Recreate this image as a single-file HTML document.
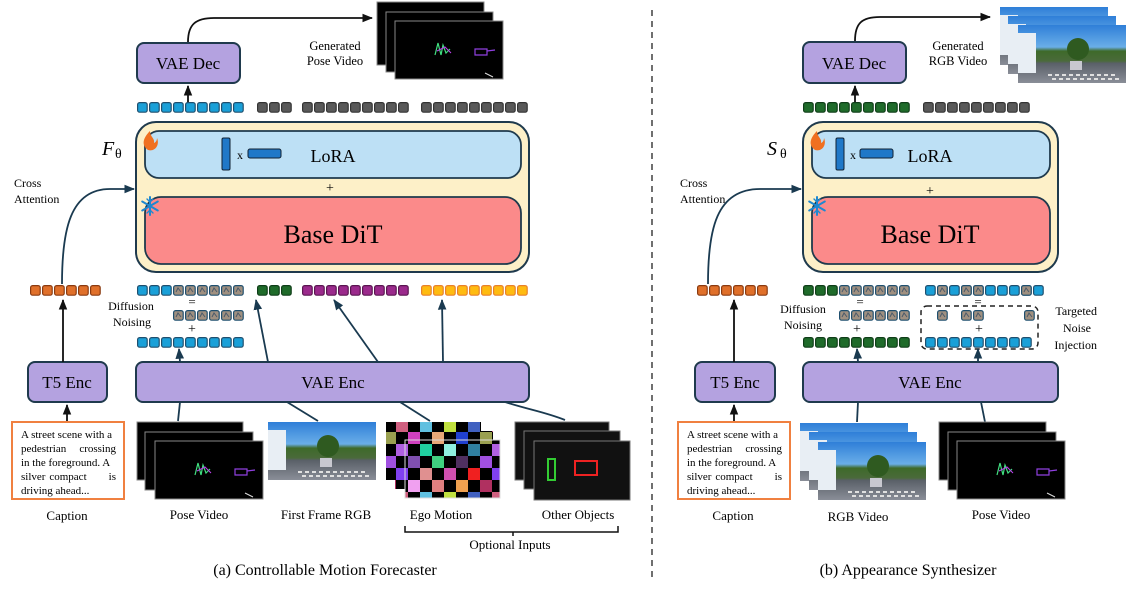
<!DOCTYPE html>
<html><head><meta charset="utf-8"><style>
html,body{margin:0;padding:0;background:#fff;}
svg{display:block;font-family:"Liberation Serif",serif;}
</style></head><body>
<svg width="1142" height="589" viewBox="0 0 1142 589" xmlns="http://www.w3.org/2000/svg">
<defs>
<pattern id="tb" width="12" height="11" patternUnits="userSpaceOnUse"><rect x="0.6" y="0.6" width="9.6" height="9.6" rx="2" fill="#1aa0d8" stroke="#1f4f6e" stroke-width="1.2"/></pattern>
<pattern id="tg" width="12" height="11" patternUnits="userSpaceOnUse"><rect x="0.6" y="0.6" width="9.6" height="9.6" rx="2" fill="#1f6b2a" stroke="#0f3d18" stroke-width="1.2"/></pattern>
<pattern id="tp" width="12" height="11" patternUnits="userSpaceOnUse"><rect x="0.6" y="0.6" width="9.6" height="9.6" rx="2" fill="#9b2a8c" stroke="#5a1550" stroke-width="1.2"/></pattern>
<pattern id="ty" width="12" height="11" patternUnits="userSpaceOnUse"><rect x="0.6" y="0.6" width="9.6" height="9.6" rx="2" fill="#ffbb10" stroke="#e8802a" stroke-width="1.2"/></pattern>
<pattern id="to" width="12" height="11" patternUnits="userSpaceOnUse"><rect x="0.6" y="0.6" width="9.6" height="9.6" rx="2" fill="#e0702a" stroke="#8a3a10" stroke-width="1.2"/></pattern>
<pattern id="tk" width="12" height="11" patternUnits="userSpaceOnUse"><rect x="0.6" y="0.6" width="9.6" height="9.6" rx="2" fill="#595959" stroke="#333" stroke-width="1.2"/></pattern>
<pattern id="tn" width="12" height="11" patternUnits="userSpaceOnUse"><rect x="0.6" y="0.6" width="9.6" height="9.6" rx="2" fill="#a09080" stroke="#1f4f6e" stroke-width="1.2"/><path d="M3 7 L5 3 L8 7" stroke="#4a5a6a" stroke-width="1" fill="none"/></pattern>
<pattern id="chk" width="80" height="60" patternUnits="userSpaceOnUse" patternTransform="scale(1.2)">
<rect width="80" height="60" fill="#000"/>
<rect x="0" y="0" width="10" height="10" fill="#9aa050"/><rect x="20" y="0" width="10" height="10" fill="#d040c0"/><rect x="40" y="0" width="10" height="10" fill="#e8a878"/><rect x="60" y="0" width="10" height="10" fill="#2040d0"/>
<rect x="10" y="10" width="10" height="10" fill="#b060e0"/><rect x="30" y="10" width="10" height="10" fill="#20d0a0"/><rect x="50" y="10" width="10" height="10" fill="#90f0e0"/><rect x="70" y="10" width="10" height="10" fill="#3080a0"/>
<rect x="0" y="20" width="10" height="10" fill="#a050e0"/><rect x="20" y="20" width="10" height="10" fill="#8050b0"/><rect x="40" y="20" width="10" height="10" fill="#40d080"/><rect x="60" y="20" width="10" height="10" fill="#503060"/>
<rect x="10" y="30" width="10" height="10" fill="#8040f0"/><rect x="30" y="30" width="10" height="10" fill="#e09090"/><rect x="50" y="30" width="10" height="10" fill="#d050b0"/><rect x="70" y="30" width="10" height="10" fill="#f02020"/>
<rect x="0" y="40" width="10" height="10" fill="#b03060"/><rect x="20" y="40" width="10" height="10" fill="#f0a0f0"/><rect x="40" y="40" width="10" height="10" fill="#e08080"/><rect x="60" y="40" width="10" height="10" fill="#f0a050"/>
<rect x="10" y="50" width="10" height="10" fill="#d06080"/><rect x="30" y="50" width="10" height="10" fill="#60c0e0"/><rect x="50" y="50" width="10" height="10" fill="#c0e040"/><rect x="70" y="50" width="10" height="10" fill="#4060c0"/>
</pattern>
<linearGradient id="street" x1="0" y1="0" x2="0" y2="1">
<stop offset="0" stop-color="#2f7fd8"/><stop offset="0.38" stop-color="#6aaee8"/><stop offset="0.45" stop-color="#3e6a2a"/><stop offset="0.62" stop-color="#4a6a3a"/><stop offset="0.66" stop-color="#5a6068"/><stop offset="1" stop-color="#8a8e98"/>
</linearGradient>
<g id="streetimg">
<rect width="108" height="58" fill="url(#street)"/>
<rect x="0" y="8" width="18" height="40" fill="#e8eef4"/>
<circle cx="60" cy="24" r="11" fill="#2f5a20"/>
<rect x="52" y="36" width="12" height="9" fill="#c8c8d0"/>
<path d="M30 50 H100 M34 54 H104" stroke="#e0e0e0" stroke-width="2" stroke-dasharray="4 3"/>
</g>
<g id="posefr">
<rect width="108" height="58" fill="#000" stroke="#888" stroke-width="1"/>
<path d="M40 34 L43 22 L46 34 L48 24 L51 32 L55 28" stroke="#40e080" stroke-width="1.2" fill="none"/>
<path d="M42 30 L50 26 L56 32" stroke="#c040f0" stroke-width="1" fill="none"/>
<path d="M80 28 H92 V34 H80 Z M92 30 L100 29" stroke="#9040e0" stroke-width="1.2" fill="none"/>
<path d="M90 52 L98 56" stroke="#ddd" stroke-width="1"/>
</g>
<g id="snow" stroke="#1e88d0" stroke-width="2" stroke-linecap="round">
<path d="M0 -9 V9 M-7.8 -4.5 L7.8 4.5 M-7.8 4.5 L7.8 -4.5"/>
<path d="M-3 -7 L0 -4 L3 -7 M-3 7 L0 4 L3 7" stroke-width="1.4" fill="none"/>
</g>
<marker id="ah" viewBox="0 0 10 10" refX="9" refY="5" markerWidth="6" markerHeight="6" orient="auto"><path d="M0 1 L10 5 L0 9 Z" fill="#111"/></marker>
<marker id="ahb" viewBox="0 0 10 10" refX="9" refY="5" markerWidth="6" markerHeight="6" orient="auto"><path d="M0 1 L10 5 L0 9 Z" fill="#1a3a50"/></marker>
</defs>

<line x1="652" y1="10" x2="652" y2="582" stroke="#222" stroke-width="1.3" stroke-dasharray="6 5"/>

<!-- LEFT -->
<rect x="137" y="43" width="103" height="40" rx="7" fill="#b4a2e0" stroke="#1f3a4d" stroke-width="2"/>
<text x="188" y="69" font-size="17" text-anchor="middle">VAE Dec</text>
<path d="M188 42 C188 24 196 18 214 18 L372 18" stroke="#111" stroke-width="1.8" fill="none" marker-end="url(#ah)"/>
<line x1="188" y1="103" x2="188" y2="86" stroke="#111" stroke-width="1.8" marker-end="url(#ah)"/>
<text x="335" y="50" font-size="12.5" text-anchor="middle">Generated</text>
<text x="335" y="65" font-size="12.5" text-anchor="middle">Pose Video</text>
<rect x="377" y="2" width="107" height="63" fill="#000" stroke="#888"/>
<rect x="386" y="12" width="107" height="60" fill="#000" stroke="#888"/>
<use href="#posefr" x="395" y="21"/>

<g transform="translate(137,102)"><rect width="108" height="11" fill="url(#tb)"/></g>
<g transform="translate(257,102)"><rect width="36" height="11" fill="url(#tk)"/></g>
<g transform="translate(302,102)"><rect width="108" height="11" fill="url(#tk)"/></g>
<g transform="translate(421,102)"><rect width="108" height="11" fill="url(#tk)"/></g>

<rect x="136" y="122" width="393" height="150" rx="20" fill="#fdf0c8" stroke="#1f3a4d" stroke-width="2"/>
<rect x="145" y="131" width="376" height="47" rx="14" fill="#bde0f5" stroke="#1f3a4d" stroke-width="1.8"/>
<rect x="222" y="138" width="8" height="32" rx="1.5" fill="#1f78c8" stroke="#123" stroke-width="1"/>
<text x="240" y="159" font-size="12" text-anchor="middle">x</text>
<rect x="248" y="149" width="33" height="9" rx="2" fill="#1f78c8" stroke="#123" stroke-width="1"/>
<text x="333" y="162" font-size="18" text-anchor="middle">LoRA</text>
<text x="330" y="192" font-size="14" text-anchor="middle">+</text>
<rect x="145" y="197" width="376" height="67" rx="16" fill="#fb8a8a" stroke="#1f3a4d" stroke-width="1.8"/>
<text x="333" y="243" font-size="26" text-anchor="middle">Base DiT</text>
<text x="102" y="155" font-size="20" font-style="italic">F</text><text x="115" y="158" font-size="14">θ</text>
<path d="M148 150 C141 145 143 138 150 131 C150 137 155 138 154 143 C157 142 157 138 157 138 C160 145 155 152 148 150 Z" fill="#f07020"/>
<use href="#snow" x="150" y="206"/>

<text x="14" y="187" font-size="12">Cross</text>
<text x="14" y="203" font-size="12">Attention</text>
<path d="M62 284 C62 230 70 189 110 189 L134 189" stroke="#1a3a50" stroke-width="1.8" fill="none" marker-end="url(#ahb)"/>
<g transform="translate(30,285)"><rect width="72" height="11" fill="url(#to)"/></g>

<g transform="translate(137,285)"><rect width="36" height="11" fill="url(#tb)"/></g>
<g transform="translate(173,285)"><rect width="72" height="11" fill="url(#tn)"/></g>
<g transform="translate(257,285)"><rect width="36" height="11" fill="url(#tg)"/></g>
<g transform="translate(302,285)"><rect width="108" height="11" fill="url(#tp)"/></g>
<g transform="translate(421,285)"><rect width="108" height="11" fill="url(#ty)"/></g>
<text x="192" y="306" font-size="13" text-anchor="middle">=</text>
<g transform="translate(173,310)"><rect width="72" height="11" fill="url(#tn)"/></g>
<text x="192" y="333" font-size="14" text-anchor="middle">+</text>
<g transform="translate(137,337)"><rect width="108" height="11" fill="url(#tb)"/></g>
<text x="131" y="310" font-size="12" text-anchor="middle">Diffusion</text>
<text x="132" y="326" font-size="12" text-anchor="middle">Noising</text>

<rect x="28" y="362" width="79" height="40" rx="7" fill="#b4a2e0" stroke="#1f3a4d" stroke-width="2"/>
<text x="67" y="388" font-size="17" text-anchor="middle">T5 Enc</text>
<rect x="136" y="362" width="393" height="40" rx="7" fill="#b4a2e0" stroke="#1f3a4d" stroke-width="2"/>
<text x="333" y="388" font-size="17" text-anchor="middle">VAE Enc</text>
<line x1="63" y1="362" x2="63" y2="300" stroke="#111" stroke-width="1.8" marker-end="url(#ah)"/>
<line x1="67" y1="421" x2="67" y2="405" stroke="#111" stroke-width="1.8" marker-end="url(#ah)"/>
<line x1="180" y1="362" x2="179" y2="349" stroke="#1a3a50" stroke-width="1.8" marker-end="url(#ahb)"/>
<line x1="268" y1="362" x2="256" y2="300" stroke="#1a3a50" stroke-width="1.8" marker-end="url(#ahb)"/>
<line x1="378" y1="362" x2="334" y2="300" stroke="#1a3a50" stroke-width="1.8" marker-end="url(#ahb)"/>
<line x1="443" y1="362" x2="442" y2="300" stroke="#1a3a50" stroke-width="1.8" marker-end="url(#ahb)"/>
<line x1="180" y1="402" x2="178" y2="421" stroke="#1a3a50" stroke-width="1.8"/>
<line x1="287" y1="402" x2="318" y2="421" stroke="#1a3a50" stroke-width="1.8"/>
<line x1="400" y1="402" x2="430" y2="421" stroke="#1a3a50" stroke-width="1.8"/>
<path d="M505 402 C530 410 545 412 565 420" stroke="#1a3a50" stroke-width="1.8" fill="none"/>

<rect x="12" y="422" width="112" height="77" fill="#fff" stroke="#f08040" stroke-width="2"/>
<g font-size="11">
<text x="21" y="438">A street scene with a</text>
<text x="21" y="452">pedestrian</text><text x="116" y="452" text-anchor="end">crossing</text>
<text x="21" y="466">in the foreground. A</text>
<text x="21" y="480">silver</text><text x="68" y="480" text-anchor="middle">compact</text><text x="116" y="480" text-anchor="end">is</text>
<text x="21" y="494">driving ahead...</text>
</g>
<text x="67" y="520" font-size="13" text-anchor="middle">Caption</text>

<rect x="137" y="422" width="106" height="58" fill="#000" stroke="#888"/>
<rect x="145" y="432" width="108" height="58" fill="#000" stroke="#888"/>
<use href="#posefr" x="155" y="441"/>
<text x="199" y="519" font-size="13" text-anchor="middle">Pose Video</text>
<use href="#streetimg" x="268" y="422"/>
<text x="326" y="519" font-size="13" text-anchor="middle">First Frame RGB</text>

<rect x="386" y="422" width="95" height="58" fill="url(#chk)"/>
<rect x="395" y="431" width="98" height="58" fill="url(#chk)"/>
<rect x="405" y="440" width="95" height="58" fill="url(#chk)" stroke="#ddd"/>
<text x="441" y="519" font-size="13" text-anchor="middle">Ego Motion</text>

<rect x="515" y="422" width="94" height="58" fill="#111" stroke="#777"/>
<rect x="524" y="431" width="96" height="58" fill="#111" stroke="#777"/>
<rect x="534" y="441" width="96" height="59" fill="#111" stroke="#777"/>
<rect x="548" y="459" width="7" height="21" fill="none" stroke="#3c3" stroke-width="2"/>
<rect x="575" y="461" width="22" height="14" fill="none" stroke="#e22" stroke-width="2"/>
<text x="578" y="519" font-size="13" text-anchor="middle">Other Objects</text>

<path d="M405 526 V532 H618 V526 M513 532 V536" stroke="#111" stroke-width="1.5" fill="none"/>
<text x="510" y="549" font-size="13" text-anchor="middle">Optional Inputs</text>
<text x="325" y="575" font-size="16" text-anchor="middle">(a) Controllable Motion Forecaster</text>

<!-- RIGHT -->
<rect x="803" y="42" width="103" height="41" rx="7" fill="#b4a2e0" stroke="#1f3a4d" stroke-width="2"/>
<text x="854" y="69" font-size="17" text-anchor="middle">VAE Dec</text>
<path d="M855 41 C855 23 862 17 880 17 L990 17" stroke="#111" stroke-width="1.8" fill="none" marker-end="url(#ah)"/>
<line x1="855" y1="103" x2="855" y2="86" stroke="#111" stroke-width="1.8" marker-end="url(#ah)"/>
<text x="958" y="50" font-size="12.5" text-anchor="middle">Generated</text>
<text x="958" y="65" font-size="12.5" text-anchor="middle">RGB Video</text>
<use href="#streetimg" x="1000" y="7"/>
<use href="#streetimg" x="1008" y="16"/>
<use href="#streetimg" x="1018" y="25"/>

<g transform="translate(803,102)"><rect width="108" height="11" fill="url(#tg)"/></g>
<g transform="translate(923,102)"><rect width="108" height="11" fill="url(#tk)"/></g>

<rect x="803" y="122" width="255" height="150" rx="20" fill="#fdf0c8" stroke="#1f3a4d" stroke-width="2"/>
<rect x="812" y="131" width="238" height="47" rx="14" fill="#bde0f5" stroke="#1f3a4d" stroke-width="1.8"/>
<rect x="836" y="138" width="8" height="32" rx="1.5" fill="#1f78c8" stroke="#123" stroke-width="1"/>
<text x="853" y="159" font-size="12" text-anchor="middle">x</text>
<rect x="860" y="149" width="33" height="9" rx="2" fill="#1f78c8" stroke="#123" stroke-width="1"/>
<text x="930" y="162" font-size="18" text-anchor="middle">LoRA</text>
<text x="930" y="195" font-size="14" text-anchor="middle">+</text>
<rect x="812" y="197" width="238" height="67" rx="16" fill="#fb8a8a" stroke="#1f3a4d" stroke-width="1.8"/>
<text x="930" y="243" font-size="26" text-anchor="middle">Base DiT</text>
<text x="767" y="155" font-size="20" font-style="italic">S</text><text x="780" y="158" font-size="14">θ</text>
<path d="M815 150 C808 145 810 138 817 131 C817 137 822 138 821 143 C824 142 824 138 824 138 C827 145 822 152 815 150 Z" fill="#f07020"/>
<use href="#snow" x="817" y="206"/>

<text x="680" y="187" font-size="12">Cross</text>
<text x="680" y="203" font-size="12">Attention</text>
<path d="M708 284 C708 230 716 189 760 189 L801 189" stroke="#1a3a50" stroke-width="1.8" fill="none" marker-end="url(#ahb)"/>
<g transform="translate(697,285)"><rect width="72" height="11" fill="url(#to)"/></g>

<g transform="translate(803,285)"><rect width="36" height="11" fill="url(#tg)"/></g>
<g transform="translate(839,285)"><rect width="72" height="11" fill="url(#tn)"/></g>
<g transform="translate(925,285)"><rect width="120" height="11" fill="url(#tb)"/></g>
<g transform="translate(937,285)"><rect width="12" height="11" fill="url(#tn)"/></g>
<g transform="translate(961,285)"><rect width="24" height="11" fill="url(#tn)"/></g>
<g transform="translate(1021,285)"><rect width="12" height="11" fill="url(#tn)"/></g>
<text x="860" y="306" font-size="13" text-anchor="middle">=</text>
<text x="978" y="306" font-size="13" text-anchor="middle">=</text>
<g transform="translate(839,310)"><rect width="72" height="11" fill="url(#tn)"/></g>
<g transform="translate(937,310)"><rect width="12" height="11" fill="url(#tn)"/></g>
<g transform="translate(961,310)"><rect width="24" height="11" fill="url(#tn)"/></g>
<g transform="translate(1024,310)"><rect width="12" height="11" fill="url(#tn)"/></g>
<text x="857" y="333" font-size="14" text-anchor="middle">+</text>
<text x="979" y="333" font-size="14" text-anchor="middle">+</text>
<g transform="translate(803,337)"><rect width="108" height="11" fill="url(#tg)"/></g>
<g transform="translate(925,337)"><rect width="108" height="11" fill="url(#tb)"/></g>
<rect x="921" y="306" width="117" height="43" rx="6" fill="none" stroke="#222" stroke-width="1.5" stroke-dasharray="5 4"/>
<text x="803" y="313" font-size="12" text-anchor="middle">Diffusion</text>
<text x="803" y="329" font-size="12" text-anchor="middle">Noising</text>
<text x="1097" y="315" font-size="12" text-anchor="end">Targeted</text>
<text x="1091" y="332" font-size="12" text-anchor="end">Noise</text>
<text x="1097" y="349" font-size="12" text-anchor="end">Injection</text>

<rect x="695" y="362" width="80" height="40" rx="7" fill="#b4a2e0" stroke="#1f3a4d" stroke-width="2"/>
<text x="735" y="388" font-size="17" text-anchor="middle">T5 Enc</text>
<rect x="803" y="362" width="255" height="40" rx="7" fill="#b4a2e0" stroke="#1f3a4d" stroke-width="2"/>
<text x="930" y="388" font-size="17" text-anchor="middle">VAE Enc</text>
<line x1="734" y1="362" x2="734" y2="300" stroke="#111" stroke-width="1.8" marker-end="url(#ah)"/>
<line x1="734" y1="421" x2="734" y2="405" stroke="#111" stroke-width="1.8" marker-end="url(#ah)"/>
<line x1="858" y1="362" x2="857" y2="349" stroke="#1a3a50" stroke-width="1.8" marker-end="url(#ahb)"/>
<line x1="978" y1="362" x2="978" y2="349" stroke="#1a3a50" stroke-width="1.8" marker-end="url(#ahb)"/>
<line x1="858" y1="402" x2="857" y2="422" stroke="#1a3a50" stroke-width="1.8"/>
<line x1="981" y1="402" x2="985" y2="422" stroke="#1a3a50" stroke-width="1.8"/>

<rect x="678" y="422" width="112" height="77" fill="#fff" stroke="#f08040" stroke-width="2"/>
<g font-size="11">
<text x="687" y="438">A street scene with a</text>
<text x="687" y="452">pedestrian</text><text x="782" y="452" text-anchor="end">crossing</text>
<text x="687" y="466">in the foreground. A</text>
<text x="687" y="480">silver</text><text x="734" y="480" text-anchor="middle">compact</text><text x="782" y="480" text-anchor="end">is</text>
<text x="687" y="494">driving ahead...</text>
</g>
<text x="733" y="520" font-size="13" text-anchor="middle">Caption</text>

<use href="#streetimg" x="800" y="423"/>
<use href="#streetimg" x="809" y="432"/>
<use href="#streetimg" x="818" y="442"/>
<text x="858" y="521" font-size="13" text-anchor="middle">RGB Video</text>
<rect x="939" y="422" width="107" height="58" fill="#000" stroke="#888"/>
<rect x="948" y="432" width="108" height="58" fill="#000" stroke="#888"/>
<use href="#posefr" x="957" y="441"/>
<text x="1001" y="519" font-size="13" text-anchor="middle">Pose Video</text>
<text x="908" y="575" font-size="16" text-anchor="middle">(b) Appearance Synthesizer</text>
</svg>
</body></html>
